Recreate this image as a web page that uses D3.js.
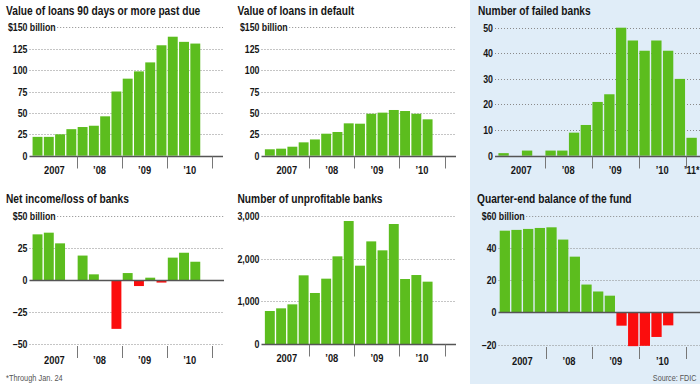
<!DOCTYPE html>
<html><head><meta charset="utf-8">
<script src="https://cdn.jsdelivr.net/npm/d3@7"></script>
<style>
html,body{margin:0;padding:0;background:#fff;}
svg{display:block;}
text{font-family:"Liberation Sans",Arial,sans-serif;fill:#151515;}
</style></head><body>
<svg id="chart" width="700" height="384"></svg>
<script>
// ---------- DATA ----------
const quarters = ["2007Q1","2007Q2","2007Q3","2007Q4","2008Q1","2008Q2","2008Q3","2008Q4",
                  "2009Q1","2009Q2","2009Q3","2009Q4","2010Q1","2010Q2","2010Q3","2010Q4"];
const quartersFailed = quarters.concat(["2011Q1"]);
const yearLabels = ["2007","\u201908","\u201909","\u201910"];
const yearLabelsFailed = ["2007","\u201908","\u201909","\u201910","\u201911*"];

const loans90 = [22,22,25,31,33.5,35,46,75,90,98.5,109,129,139,133,131];
const loansDefault = [7.5,8.2,10.5,15.6,19,25.7,27.7,37.8,37.4,49,50.3,53.4,52.2,49,42.5];
const failedBanks = [1,0,2,0,2,2,9,12,21,24,50,45,41,45,41,30,7];
const netIncome = [35.5,36.8,28.5,0,19,4.4,0,-38,5.4,-4.7,1.8,-2,17.4,21.2,14.2];
const unprofitable = [777,839,932,1609,1197,1531,2052,2876,1834,2401,2192,2806,1523,1616,1461];
const fundBalance = [50.7,51.2,51.8,52.4,52.8,45.2,34.6,17.3,13.0,10.4,-8.2,-20.9,-20.7,-15.2,-8.0];

const ticksLoans = [0,25,50,75,100,125,150];
const ticksFailed = [0,10,20,30,40,50];
const ticksIncome = [-50,-25,0,25,50];
const ticksUnprof = [0,1000,2000,3000];
const ticksFund = [-20,0,20,40,60];

const titles = ["Value of loans 90 days or more past due","Value of loans in default","Number of failed banks",
                "Net income/loss of banks","Number of unprofitable banks","Quarter-end balance of the fund"];

// ---------- STYLE ----------
const GREEN = "#5cbd1e", RED = "#fb0d0d", BLUE_BG = "#e0edf8";
const svg = d3.select("#chart");
svg.append("rect").attr("x",470).attr("y",0).attr("width",230).attr("height",384).attr("fill",BLUE_BG);

const fmtMinus = v => v < 0 ? "\u2013" + d3.format(",")(-v) : d3.format(",")(v);

// condensed text helper (horizontal squeeze to mimic a condensed face)
function txt(g, x, y, s, o){
  const t = g.append("text")
    .attr("transform", `translate(${x},${y}) scale(${o.sx||1},1)`)
    .attr("text-anchor", o.anchor || "start")
    .style("font-size", o.size + "px")
    .style("font-weight", o.weight || "bold")
    .text(s);
  if (o.dy) t.attr("dy", o.dy);
  if (o.fill) t.style("fill", o.fill);
  return t;
}

function panel(o){
  const g = svg.append("g");
  const x = d3.scaleBand().domain(o.cats).range([o.left, o.right]).paddingInner(0.12).paddingOuter(0.06);
  const y = d3.scaleLinear().domain(o.domain).range([o.bottom, o.top]);
  const SX = 0.8;
  // title
  txt(g, o.titleX, o.top-12.6, o.title, {size:13, sx:0.785});
  // gridlines and labels
  o.ticks.forEach((t,i)=>{
    const yy = Math.round(y(t))+0.5;
    const isTop = i===o.ticks.length-1;
    txt(g, o.labelX, yy, (o.prefix && isTop ? o.prefix : "") + fmtMinus(t),
        {size:11, sx:SX, anchor:"end", dy:"0.36em"});
    let gx = o.labelX + 2;
    if (o.suffix && isTop){
      const s = txt(g, o.labelX+2.3, yy, o.suffix, {size:11, sx:SX, dy:"0.36em"});
      gx = o.labelX + 2.3 + s.node().getComputedTextLength()*SX + 1.5;
    }
    if (t === 0) return;
    g.append("line").attr("x1",gx).attr("x2",o.gridRight).attr("y1",yy).attr("y2",yy)
      .attr("stroke","#8a8a8a").attr("stroke-width",1).attr("stroke-dasharray","1,2");
  });
  // bars
  g.selectAll("rect.bar").data(o.values).join("rect")
    .attr("x",(d,i)=>x(o.cats[i]))
    .attr("width",x.bandwidth())
    .attr("y",d=>y(Math.max(0,d)))
    .attr("height",d=>Math.abs(y(d)-y(0)))
    .attr("fill",d=>d<0?RED:GREEN);
  // zero axis line
  const y0 = Math.round(y(0))+0.5;
  g.append("line").attr("x1",o.labelX+2).attr("x2",o.gridRight).attr("y1",y0).attr("y2",y0)
    .attr("stroke","#555").attr("stroke-width",1.3);
  // year separators and labels
  const step = x.step();
  const start = x(o.cats[0]) - x.paddingOuter()*step;
  const base = Math.round(y(o.domain[0]))+0.5 + (o.domain[0]<0 ? 1.5 : 0);
  for (let k=1;k<=4;k++){
    const xx = Math.round(start + 4*k*step) + 0.5;
    g.append("line").attr("x1",xx).attr("x2",xx).attr("y1",base).attr("y2",base+12)
      .attr("stroke","#777").attr("stroke-width",1);
  }
  o.yearLabels.forEach((lab,k)=>{
    if (k===4){
      txt(g, 699.5, base+17.5, lab, {size:11.5, sx:0.78, anchor:"end"});
    } else {
      txt(g, start + 4*k*step + 2*step, base+17.5, lab, {size:11.5, sx:0.81, anchor:"middle"});
    }
  });
}

panel({title:titles[0],titleX:6,cats:quarters,values:loans90,left:31.9,right:212.2,gridRight:223,
  top:27.3,bottom:155.7,domain:[0,150],ticks:ticksLoans,labelX:27.5,prefix:"$",suffix:"billion",yearLabels:yearLabels});
panel({title:titles[1],titleX:237.5,cats:quarters,values:loansDefault,left:264.2,right:444.5,gridRight:456,
  top:27.3,bottom:155.7,domain:[0,150],ticks:ticksLoans,labelX:259.5,prefix:"$",suffix:"billion",yearLabels:yearLabels});
panel({title:titles[2],titleX:478,cats:quartersFailed,values:failedBanks,left:497.7,right:697.5,gridRight:700,
  top:27.7,bottom:155.7,domain:[0,50],ticks:ticksFailed,labelX:493,yearLabels:yearLabelsFailed});
panel({title:titles[3],titleX:6,cats:quarters,values:netIncome,left:31.9,right:212.2,gridRight:224,
  top:215.7,bottom:344.3,domain:[-50,50],ticks:ticksIncome,labelX:27.5,prefix:"$",suffix:"billion",yearLabels:yearLabels});
panel({title:titles[4],titleX:237.5,cats:quarters,values:unprofitable,left:264.2,right:444.5,gridRight:456,
  top:215.7,bottom:344.3,domain:[0,3000],ticks:ticksUnprof,labelX:259.5,yearLabels:yearLabels});
panel({title:titles[5],titleX:477,cats:quarters,values:fundBalance,left:499,right:685.7,gridRight:700,
  top:215.7,bottom:344.7,domain:[-20,60],ticks:ticksFund,labelX:496.5,prefix:"$",suffix:"billion",yearLabels:yearLabels});

const notes = svg.append("g");
txt(notes, 6, 381, "*Through Jan. 24", {size:9.5, sx:0.78, weight:"normal", fill:"#555"});
txt(notes, 696.5, 381, "Source: FDIC", {size:9.5, sx:0.76, weight:"normal", anchor:"end", fill:"#555"});
</script>
</body></html>
